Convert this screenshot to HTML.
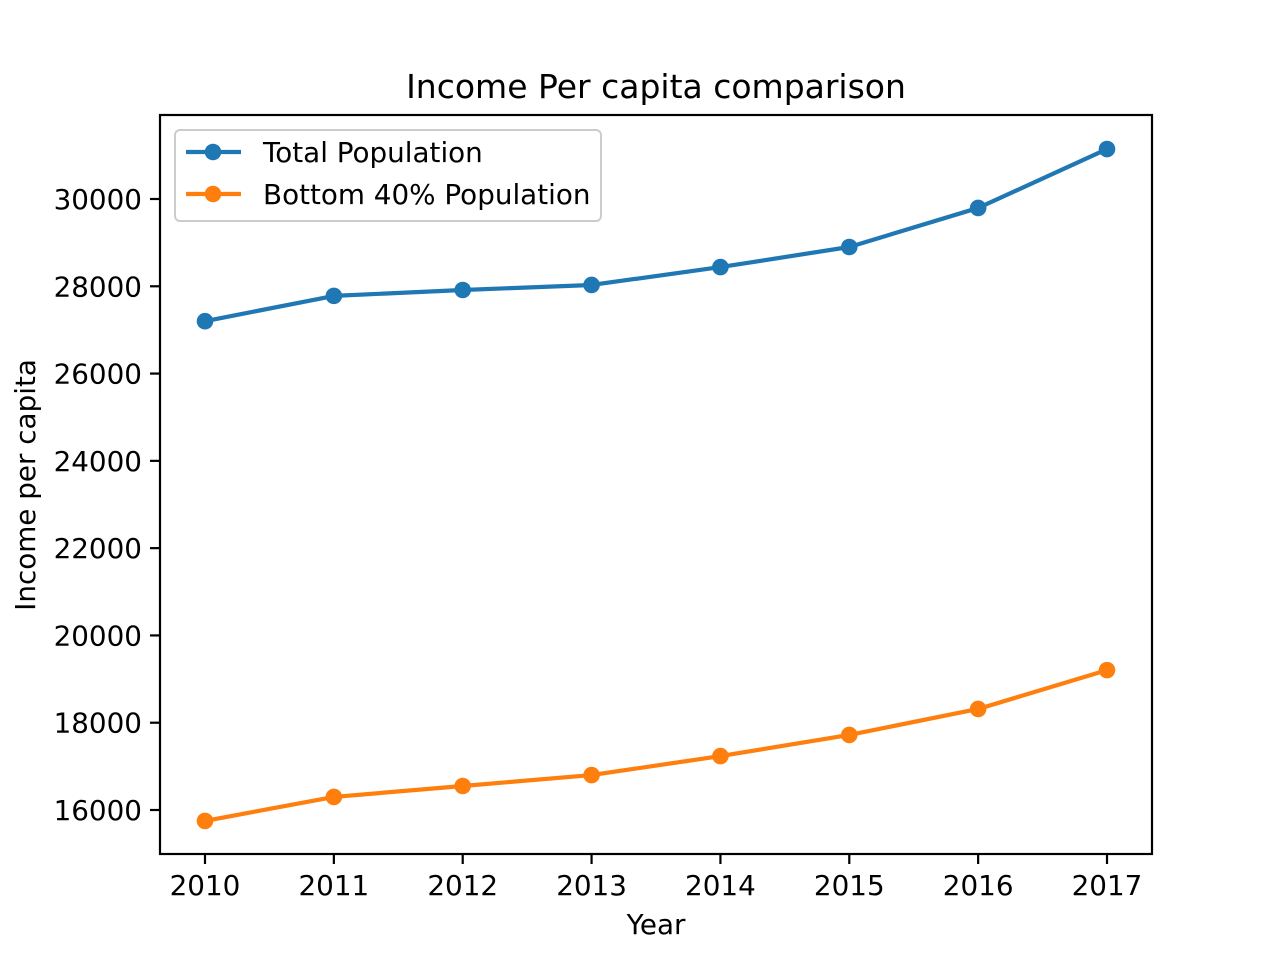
<!DOCTYPE html>
<html><head><meta charset="utf-8"><style>
html,body{margin:0;padding:0;background:#fff}
svg text{font-family:"DejaVu Sans","Liberation Sans",sans-serif;fill:#000}
</style></head><body>
<svg id="chart" width="1280" height="960" xmlns="http://www.w3.org/2000/svg">
<rect width="1280" height="960" fill="#fff"/>
<text x="656" y="98" font-size="33" text-anchor="middle">Income Per capita comparison</text>
<g id="plot"></g>
<rect x="160" y="115" width="992" height="739" fill="none" stroke="#000" stroke-width="2.2"/>
<text x="656" y="934" font-size="27.8" text-anchor="middle">Year</text>
<text transform="translate(35,485) rotate(-90)" font-size="27.8" text-anchor="middle">Income per capita</text>
<g>
<rect x="175" y="130" width="426" height="91" rx="5" fill="#fff" fill-opacity="0.8" stroke="#ccc" stroke-width="2"/>
<g>
<line x1="186" y1="152" x2="241" y2="152" stroke="#1f77b4" stroke-width="4.2"/>
<circle cx="213" cy="152" r="8.3" fill="#1f77b4"/>
<text x="263" y="162" font-size="27.8">Total Population</text></g>
<g>
<line x1="186" y1="194" x2="241" y2="194" stroke="#ff7f0e" stroke-width="4.2"/>
<circle cx="213" cy="194" r="8.3" fill="#ff7f0e"/>
<text x="263" y="204" font-size="27.8">Bottom 40% Population</text></g>
</g>
</svg>
<script>
const years=[2010,2011,2012,2013,2014,2015,2016,2017];
const totalPop=[27200,27780,27915,28030,28440,28900,29795,31145];
const bottom40=[15750,16300,16550,16800,17235,17720,18315,19205];
const yTicks=[16000,18000,20000,22000,24000,26000,28000,30000];
const NS="http://www.w3.org/2000/svg";
const xS=v=>205+(v-2010)*(1107-205)/7;
const yS=v=>810-(v-16000)*(810-199)/14000;
const g=document.getElementById('plot');
function mk(t,a){const e=document.createElementNS(NS,t);for(const k in a)e.setAttribute(k,a[k]);g.appendChild(e);return e;}
years.forEach(y=>{
 const t=mk('line',{x1:xS(y),x2:xS(y),y1:854,y2:864,stroke:'#000','stroke-width':2.2});
 
 
 const l=mk('text',{x:xS(y),y:895,'font-size':27.8,'text-anchor':'middle'});l.textContent=y;
 
 
});
yTicks.forEach(v=>{
 const t=mk('line',{x1:150,x2:160,y1:yS(v),y2:yS(v),stroke:'#000','stroke-width':2.2});
 
 
 const l=mk('text',{x:142,y:yS(v)+10,'font-size':27.8,'text-anchor':'end'});l.textContent=v;
 
 
});
function series(vals,color,name){
 const p=mk('polyline',{points:vals.map((v,i)=>xS(years[i])+','+yS(v)).join(' '),fill:'none',stroke:color,'stroke-width':4.2,'stroke-linejoin':'round'});
 
 
 vals.forEach((v,i)=>{
  const c=mk('circle',{cx:xS(years[i]),cy:yS(v),r:8.3,fill:color});
  
  
 });
}
series(totalPop,'#1f77b4','total-population');
series(bottom40,'#ff7f0e','bottom-40-population');
</script>
</body></html>
